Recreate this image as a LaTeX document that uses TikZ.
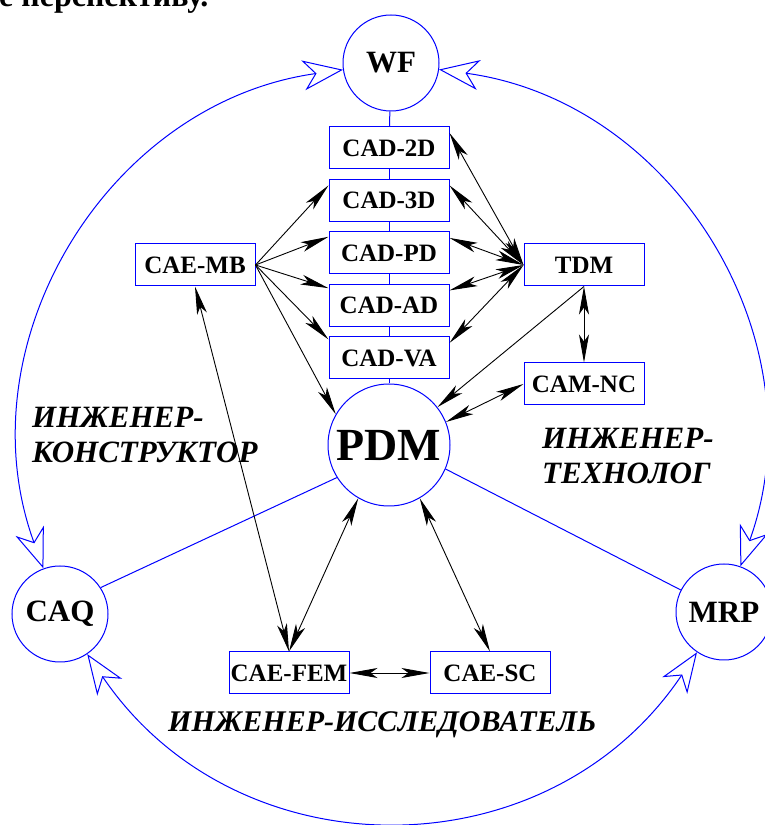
\documentclass[tikz,border=0pt]{standalone}
\usepackage{fontspec}
\setmainfont{Liberation Serif}
\usetikzlibrary{positioning,arrows.meta}

\tikzset{
  box/.style={draw=blue, line width=1pt, minimum width=120pt, minimum height=42pt,
    inner sep=0pt, font=\bfseries\fontsize{25}{30}\selectfont},
  sys/.style={draw=blue, line width=1pt, circle, minimum size=96pt, inner sep=0pt,
    font=\bfseries\fontsize{31}{36}\selectfont},
  role/.style={font=\bfseries\itshape\fontsize{31}{35}\selectfont, align=left, inner sep=0pt},
  link/.style={blue, line width=1pt},
  flow/.style={line width=0.9pt, -{Stealth[length=28pt,width=10pt,inset=7pt]}},
  both/.style={line width=0.9pt,
    {Stealth[length=28pt,width=10pt,inset=7pt]}-{Stealth[length=28pt,width=10pt,inset=7pt]}},
  ring/.style={blue, line width=1pt,
    {Stealth[open,length=40pt,width=30pt,inset=12pt]}-{Stealth[open,length=40pt,width=30pt,inset=12pt]}},
}

\begin{document}
\begin{tikzpicture}[x=1pt,y=1pt]
\useasboundingbox (0,0) rectangle (765,825);
\node[anchor=base west, inner sep=0pt, font=\bfseries\fontsize{32}{36}\selectfont] (head) at (-1,818) {е перспективу.};

% systems on the ring
\node[sys] (wf) at (391,762) {WF};
\node[sys] (caq) at (60,211) {CAQ};
\node[sys] (mrp) at (724,213) {MRP};
\node[sys, minimum size=122pt, font=\bfseries\fontsize{46}{50}\selectfont] (pdm) at (389,380) {PDM};

% CAD stack
\node[box] (cad2d) at (389,677) {CAD-2D};
\node[box, below=9.5pt of cad2d] (cad3d) {CAD-3D};
\node[box, below=9.5pt of cad3d] (cadpd) {CAD-PD};
\node[box, below=9.5pt of cadpd] (cadad) {CAD-AD};
\node[box, below=9.5pt of cadad] (cadva) {CAD-VA};

\node[box] (tdm) at (584,560) {TDM};
\node[box] (camnc) at (584,441) {CAM-NC};
\node[box] (caemb) at (195,560) {CAE-MB};
\node[box] (caefem) at (289,152) {CAE-FEM};
\node[box] (caesc) at (490,152) {CAE-SC};

\node[role, anchor=north west] (constr) at (32,418) {ИНЖЕНЕР-\\КОНСТРУКТОР};
\node[role, anchor=north west] (techn) at (542,397) {ИНЖЕНЕР-\\ТЕХНОЛОГ};
\node[role, anchor=base west, font=\bfseries\itshape\fontsize{30}{35}\selectfont] (resch) at (168,93) {ИНЖЕНЕР-ИССЛЕДОВАТЕЛЬ};

% blue links
\foreach \a/\b in {wf/cad2d, cad2d/cad3d, cad3d/cadpd, cadpd/cadad, cadad/cadva, cadva/pdm}
  \draw[link] (\a) -- (\b);
\draw[link] (pdm.212) -- (caq.33);
\draw[link] (pdm.337) -- (mrp.153);

\draw[ring] (caq) to[bend left=51, looseness=1.05] (wf);
\draw[ring] (wf) to[bend left=51, looseness=1.05] (mrp);
\draw[ring] (mrp) to[bend left=56, looseness=1.12] (caq);

% data flows
\foreach \n/\a in {cad3d/166, cadpd/165, cadad/164, cadva/163, pdm/150}
  \draw[flow] (caemb.east) -- (\n.\a);
\foreach \n in {cad2d, cad3d, cadpd, cadad, cadva}
  \draw[both] (\n.14) -- (tdm.west);
\draw[flow] (tdm.south) -- (pdm.38);
\draw[both] (tdm) -- (camnc);
\draw[both] (camnc.west) -- (pdm.22);
\draw[both] (caemb.south) -- (caefem.north);
\draw[both] (pdm.240) -- (caefem.north);
\draw[both] (pdm.300) -- (caesc.north);
\draw[both] (caefem) -- (caesc);
\end{tikzpicture}
\end{document}
